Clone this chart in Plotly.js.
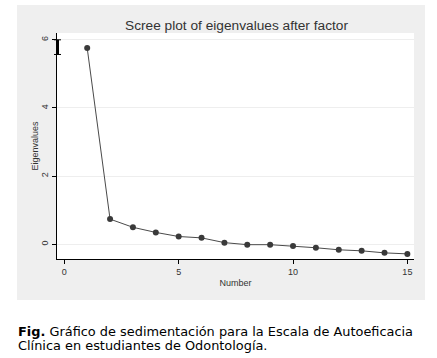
<!DOCTYPE html>
<html>
<head>
<meta charset="utf-8">
<script src="https://cdn.plot.ly/plotly-3.0.1.min.js"></script>
<style>
html,body{margin:0;padding:0;background:#fff;}
#chart{width:437px;height:358px;}
</style>
</head>
<body>
<div id="chart"></div>
<script>
// Data
const numbers = [1,2,3,4,5,6,7,8,9,10,11,12,13,14,15];
const eigenvalues = [5.76,0.74,0.50,0.35,0.23,0.19,0.05,-0.01,-0.01,-0.05,-0.10,-0.16,-0.19,-0.25,-0.28];
const xTicks = [0,5,10,15];
const yTicks = [0,2,4,6];
const chartTitle = "Scree plot of eigenvalues after factor";
const xTitle = "Number";
const yTitle = "Eigenvalues";
const captionLine1 = "<b>Fig.</b> Gráfico de sedimentación para la Escala de Autoeficacia";
const captionLine2 = "Clínica en estudiantes de Odontología.";

const W = 437, H = 358;
const L = 57, R = 23, T = 33, B = 99;
const pw = W - L - R, ph = H - T - B;
const px = x => (x - L) / pw;      // pixel -> paper x
const py = y => (H - B - y) / ph;  // pixel -> paper y

const trace = {
  x: numbers, y: eigenvalues, type: 'scatter', mode: 'lines+markers',
  line: {color: '#4a4a4a', width: 1},
  marker: {color: '#3a3a3a', size: 6, symbol: 'circle'},
  hoverinfo: 'skip'
};

const axFont = {family: 'Liberation Sans, Arial, sans-serif', size: 9, color: '#333'};
const capFont = {family: 'DejaVu Sans, Verdana, sans-serif', size: 12.9, color: '#000'};

const layout = {
  width: W, height: H,
  margin: {l: L, r: R, t: T, b: B, pad: 0},
  paper_bgcolor: '#ffffff',
  plot_bgcolor: '#ffffff',
  showlegend: false,
  title: {
    text: chartTitle,
    font: {family: 'Liberation Sans, Arial, sans-serif', size: 13.7, color: '#333'},
    x: px(236.5), xanchor: 'center', xref: 'paper',
    y: 1 - 25 / H, yanchor: 'middle'
  },
  xaxis: {
    range: [-0.32, 15.29], tickvals: xTicks, ticktext: xTicks.map(String),
    ticks: 'outside', ticklen: 4, tickwidth: 1, tickcolor: '#000',
    showline: true, linecolor: '#000', linewidth: 1,
    showgrid: false, zeroline: false, tickfont: axFont,
    title: {text: xTitle, font: axFont, standoff: 3},
    automargin: false, fixedrange: true
  },
  yaxis: {
    range: [-0.43, 6.2], tickvals: yTicks, ticktext: yTicks.map(String),
    ticks: 'outside', ticklen: 4, tickwidth: 1, tickcolor: '#000',
    tickangle: -90,
    showline: true, linecolor: '#000', linewidth: 1,
    showgrid: true, gridcolor: '#eeeeee', gridwidth: 1,
    zeroline: false, tickfont: axFont,
    title: {text: yTitle, font: axFont, standoff: 0},
    automargin: false, fixedrange: true
  },
  shapes: [
    {type: 'rect', xref: 'paper', yref: 'paper', layer: 'below',
     x0: px(17), x1: px(425), y0: py(300), y1: py(5),
     fillcolor: '#efefef', line: {width: 0}},
    {type: 'rect', xref: 'paper', yref: 'paper', layer: 'below',
     x0: 0, x1: 1, y0: 0, y1: 1,
     fillcolor: '#ffffff', line: {width: 0}},
    {type: 'line', xref: 'paper', yref: 'y', x0: px(57.5), x1: px(57.5), y0: 5.57, y1: 6.0,
     line: {color: '#000', width: 3}},
    {type: 'line', xref: 'paper', yref: 'y', x0: px(54), x1: px(61), y0: 6.0, y1: 6.0,
     line: {color: '#000', width: 1}},
    {type: 'line', xref: 'paper', yref: 'y', x0: px(54), x1: px(61), y0: 5.57, y1: 5.57,
     line: {color: '#000', width: 1}}
  ],
  annotations: [
    {text: captionLine1, xref: 'paper', yref: 'paper', x: px(17), y: py(322.5),
     xanchor: 'left', yanchor: 'top', showarrow: false, borderpad: 0,
     font: capFont},
    {text: captionLine2, xref: 'paper', yref: 'paper', x: px(17), y: py(336.5),
     xanchor: 'left', yanchor: 'top', showarrow: false, borderpad: 0,
     font: capFont}
  ]
};

Plotly.newPlot('chart', [trace], layout, {staticPlot: true, displayModeBar: false});
</script>
</body>
</html>
